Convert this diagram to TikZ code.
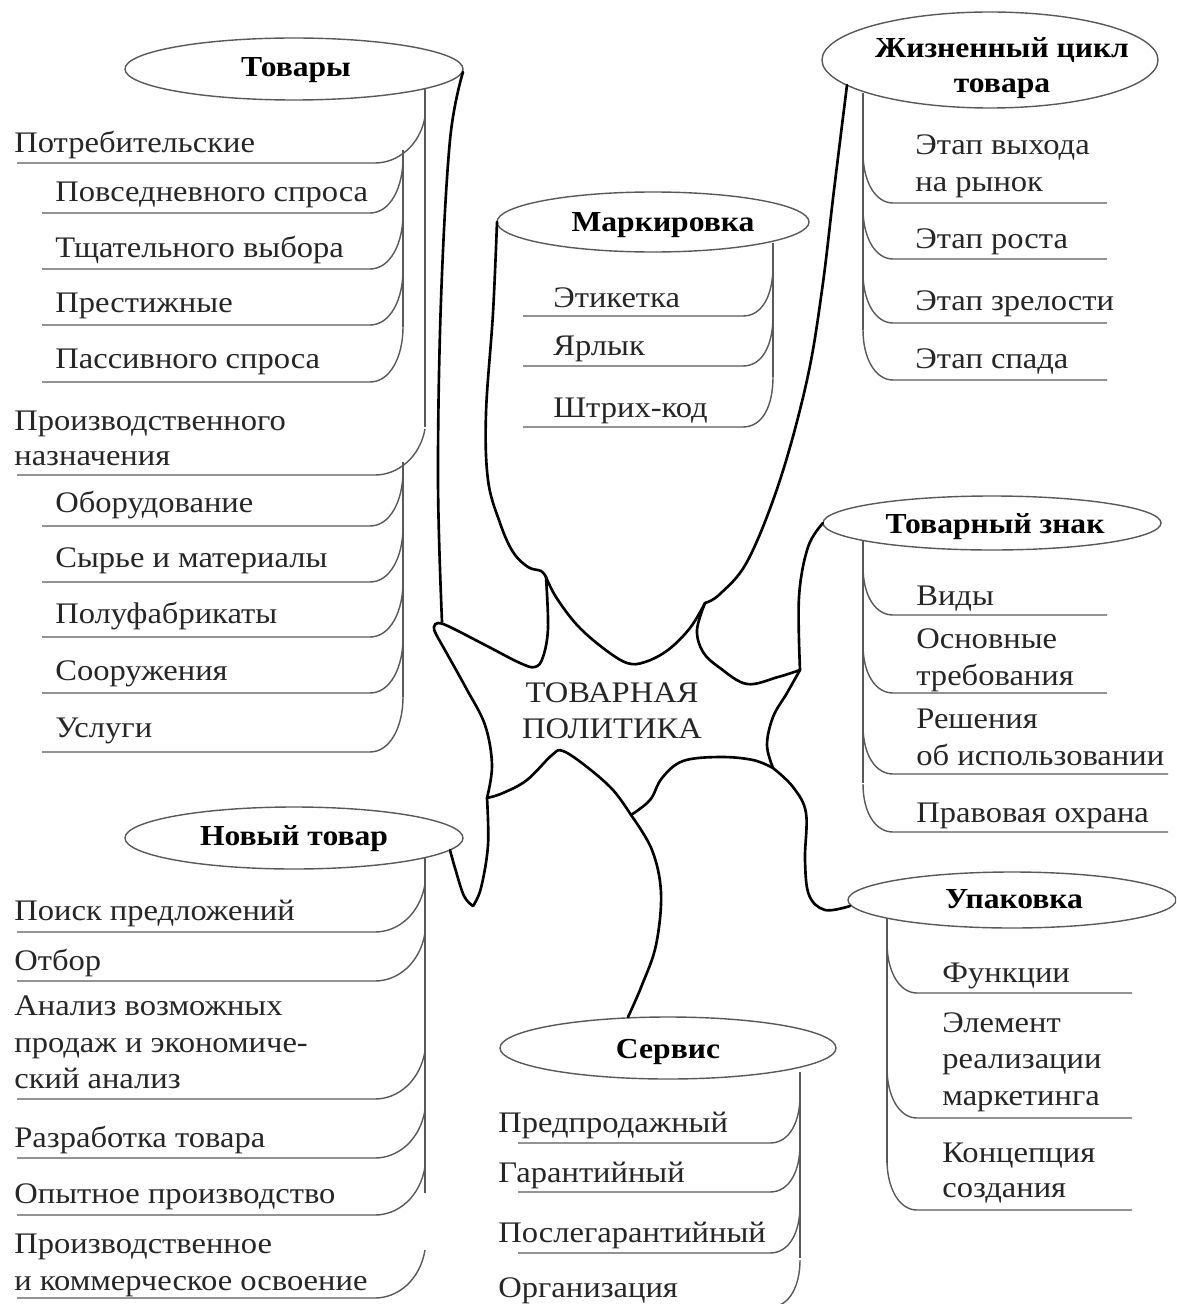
\documentclass[tikz,border=0pt]{standalone}
\usepackage{fontspec}
\setmainfont{Liberation Serif}[FakeStretch=1.09]

\begin{document}
\begin{tikzpicture}[x=0.02cm, y=-0.02cm,
  every node/.style={inner sep=0pt, text=black!85, font=\fontsize{17}{20}\selectfont},
  lbl/.style={anchor=base west},
  head/.style={anchor=base, text=black, font=\fontsize{16.5}{20}\selectfont\bfseries},
  thin/.style={draw=black!65, line width=0.8pt},
  thick/.style={draw=black, line width=1.5pt, line cap=round, line join=round}]
  \useasboundingbox (0,0) rectangle (1176,1304);
  \clip (0,0) rectangle (1176,1304);

  % Товары
  \draw[thin] (294,69) ellipse [x radius=169, y radius=31];
  \node[head] (tovary) at (296,77) {Товары};
  \draw[thin] (425,89) -- (425,427);
  \draw[thin] (403,150) -- (403,327);
  \draw[thin] (403,462) -- (403,697);
  \foreach \y in {163,475}
    \draw[thin] (17,\y) -- (375,\y) .. controls (398,\y) and (420,\y-18) .. (425,\y-46);
  \foreach \y in {213,269,325,382,526,582,637,693,752}
    \draw[thin] (42,\y) -- (370,\y) .. controls (390,\y) and (403,\y-25) .. (403,\y-55);
  \foreach \x/\y/\t [count=\i] in {14/153/Потребительские, 55/202/Повседневного спроса,
      55/257/Тщательного выбора, 55/312/Престижные, 55/368/Пассивного спроса,
      14/430/Производственного, 14/465/назначения, 55/512/Оборудование,
      55/567/Сырье и материалы, 55/623/Полуфабрикаты, 55/680/Сооружения, 55/737/Услуги}
    \node[lbl] (tov-\i) at (\x,\y) {\t};

  % Новый товар
  \draw[thin] (294,838) ellipse [x radius=169, y radius=31];
  \node[head] (novyj) at (294,845) {Новый товар};
  \draw[thin] (425,858) -- (425,1193);
  \foreach \y in {932,981,1099,1158,1215,1298}
    \draw[thin] (17,\y) -- (375,\y) .. controls (398,\y) and (420,\y-18) .. (425,\y-48);
  \foreach \y/\t [count=\i] in {920/Поиск предложений, 970/Отбор, 1015/Анализ возможных,
      1052/продаж и экономиче-, 1088/ский анализ, 1147/Разработка товара,
      1203/Опытное производство, 1253/Производственное, 1290/и коммерческое освоение}
    \node[lbl] (nov-\i) at (14,\y) {\t};

  % Маркировка
  \draw[thin] (653,222) ellipse [x radius=156, y radius=30];
  \node[head] (mark) at (663,232) {Маркировка};
  \draw[thin] (773,243) -- (773,377);
  \foreach \y in {316,366,427}
    \draw[thin] (523,\y) -- (743,\y) .. controls (763,\y) and (773,\y-22) .. (773,\y-50);
  \foreach \y/\t [count=\i] in {307/Этикетка, 355/Ярлык, 417/Штрих-код}
    \node[lbl] (mark-\i) at (553,\y) {\t};

  % Сервис
  \draw[thin] (668,1048) ellipse [x radius=168, y radius=31];
  \node[head] (servis) at (668,1058) {Сервис};
  \draw[thin] (800,1072) -- (800,1258);
  \foreach \y in {1143,1192,1253,1307}
    \draw[thin] (518,\y) -- (770,\y) .. controls (790,\y) and (800,\y-22) .. (800,\y-47);
  \foreach \y/\t [count=\i] in {1132/Предпродажный, 1182/Гарантийный,
      1242/Послегарантийный, 1297/Организация}
    \node[lbl] (serv-\i) at (498,\y) {\t};

  % Жизненный цикл товара
  \draw[thin] (990,60) ellipse [x radius=168, y radius=48];
  \node[head] (cikl) at (1002,58) {Жизненный цикл};
  \node[head] (cikl-b) at (1002,93) {товара};
  \draw[thin] (863,93) -- (863,330);
  \foreach \y in {203,259,323,380}
    \draw[thin] (863,\y-50) .. controls (863,\y-22) and (875,\y) .. (893,\y) -- (1107,\y);
  \foreach \y/\t [count=\i] in {155/Этап выхода, 192/на рынок, 248/Этап роста,
      310/Этап зрелости, 368/Этап спада}
    \node[lbl] (cikl-\i) at (915,\y) {\t};

  % Товарный знак
  \draw[thin] (992,523) ellipse [x radius=169, y radius=27];
  \node[head] (znak) at (995,533) {Товарный знак};
  \draw[thin] (863,540) -- (863,783);
  \foreach \y/\r in {615/1107, 693/1107, 774/1168, 832/1168}
    \draw[thin] (863,\y-48) .. controls (863,\y-20) and (875,\y) .. (893,\y) -- (\r,\y);
  \foreach \y/\t [count=\i] in {605/Виды, 648/Основные, 685/требования, 728/Решения,
      765/об использовании, 822/Правовая охрана}
    \node[lbl] (znak-\i) at (916,\y) {\t};

  % Упаковка
  \draw[thin] (1012,900) ellipse [x radius=164, y radius=28];
  \node[head] (upak) at (1014,908) {Упаковка};
  \draw[thin] (887,918) -- (887,1163);
  \foreach \y in {993,1118,1210}
    \draw[thin] (887,\y-50) .. controls (887,\y-22) and (899,\y) .. (917,\y) -- (1132,\y);
  \foreach \y/\t [count=\i] in {982/Функции, 1032/Элемент, 1068/реализации,
      1105/маркетинга, 1162/Концепция, 1197/создания}
    \node[lbl] (upak-\i) at (942,\y) {\t};

  % ТОВАРНАЯ ПОЛИТИКА
  \draw[thick] plot[smooth, tension=0.6] coordinates {(487,798) (492,765) (485,725) (466,688)
    (446,652) (436,634) (434,627) (438,623) (450,627) (487,646) (520,663) (535,667) (543,657)
    (548,628) (546,577)};
  \draw[thick] plot[smooth, tension=0.6] coordinates {(546,577) (556,597) (577,625) (603,648)
    (627,663) (645,662) (668,650) (690,628) (705,603)};
  \draw[thick] plot[smooth, tension=0.6] coordinates {(705,603) (697,630) (703,652) (720,668)
    (747,684) (778,677) (800,670)};
  \draw[thick] plot[smooth, tension=0.6] coordinates {(800,670) (787,693) (773,717) (767,745)
    (773,768)};
  \draw[thick] plot[smooth, tension=0.6] coordinates {(773,768) (753,760) (720,757) (683,761)
    (662,778) (650,800) (631,815)};
  \draw[thick] plot[smooth, tension=0.6] coordinates {(631,815) (613,790) (587,767) (563,751)
    (552,755) (527,780) (503,793) (487,798)};
  \node[anchor=base] (pol-1) at (612,702) {ТОВАРНАЯ};
  \node[anchor=base] (pol-2) at (612,738) {ПОЛИТИКА};

  \draw[thick] plot[smooth, tension=0.6] coordinates {(463,72) (450,140) (441,300) (438,480)
    (442,622)};
  \draw[thick] plot[smooth, tension=0.6] coordinates {(497,222) (493,313) (486,413) (488,480)
    (500,523) (513,552) (528,567) (541,571) (546,577)};
  \draw[thick] plot[smooth, tension=0.6] coordinates {(847,85) (834,190) (822,290) (807,380)
    (780,480) (748,560) (720,594) (705,603)};
  \draw[thick] plot[smooth, tension=0.6] coordinates {(823,523) (808,547) (799,597) (800,670)};
  \draw[thick] plot[smooth, tension=0.6] coordinates {(773,768) (793,787) (806,813) (805,860)
    (809,895) (825,910) (850,906)};
  \draw[thick] plot[smooth, tension=0.6] coordinates {(631,815) (652,850) (661,893) (656,945)
    (642,985) (628,1017)};
  \draw[thick] plot[smooth, tension=0.6] coordinates {(487,798) (488,845) (481,888) (473,906)};
  \draw[thick] plot[smooth, tension=0.6] coordinates {(473,906) (464,896) (455,868) (450,850)};
\end{tikzpicture}
\end{document}
